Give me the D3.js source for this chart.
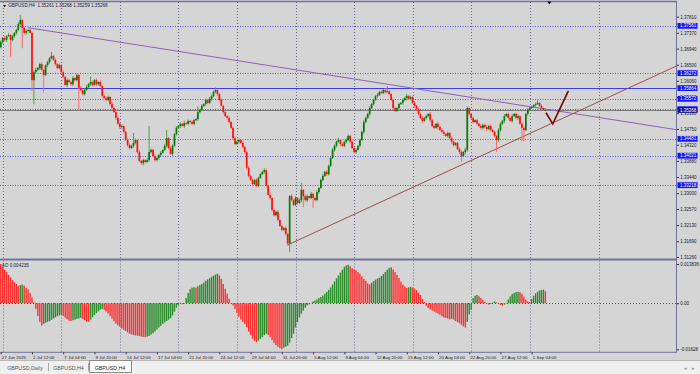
<!DOCTYPE html>
<html><head><meta charset="utf-8">
<script src="https://cdn.jsdelivr.net/npm/d3@7"></script>
<style>
html,body{margin:0;padding:0;background:#d5d5d5;overflow:hidden;}
svg{display:block;}
text{font-family:"Liberation Sans",Arial,sans-serif;}
</style></head><body>
<svg id="c" width="700" height="374"></svg>
<script>
// ---------------- DATA ----------------
const symbolLabel = "GBPUSD,H4";
const headerOHLC = ["1.35261", "1.35268", "1.35259", "1.35268"];
const firstOpen = 1.3698;
const closes = [
1.3712,1.3723,1.3718,1.3728,1.3731,1.3718,1.3728,1.3737,1.3745,1.3761,
1.3772,1.3750,1.3737,1.3742,1.3745,1.3737,1.3608,1.3630,1.3636,1.3641,
1.3652,1.3636,1.3622,1.3649,1.3657,1.3668,1.3674,1.3663,1.3652,1.3641,
1.3649,1.3630,1.3617,1.3595,1.3608,1.3603,1.3597,1.3614,1.3608,1.3622,
1.3587,1.3581,1.3570,1.3581,1.3589,1.3597,1.3603,1.3595,1.3608,1.3597,
1.3603,1.3592,1.3565,1.3559,1.3554,1.3562,1.3543,1.3532,1.3521,1.3505,
1.3489,1.3480,1.3483,1.3467,1.3445,1.3431,1.3423,1.3429,1.3437,1.3445,
1.3412,1.3388,1.3382,1.3390,1.3385,1.3390,1.3412,1.3418,1.3401,1.3390,
1.3396,1.3404,1.3410,1.3418,1.3429,1.3450,1.3423,1.3407,1.3429,1.3461,
1.3478,1.3483,1.3489,1.3483,1.3491,1.3489,1.3497,1.3494,1.3489,1.3499,
1.3502,1.3521,1.3527,1.3538,1.3543,1.3554,1.3546,1.3557,1.3565,1.3576,
1.3581,1.3570,1.3554,1.3538,1.3521,1.3510,1.3505,1.3494,1.3478,1.3450,
1.3434,1.3440,1.3445,1.3437,1.3426,1.3412,1.3369,1.3347,1.3336,1.3325,
1.3336,1.3320,1.3341,1.3352,1.3358,1.3363,1.3320,1.3295,1.3287,1.3254,
1.3240,1.3249,1.3227,1.3210,1.3200,1.3205,1.3189,1.3163,1.3292,1.3281,
1.3268,1.3287,1.3273,1.3281,1.3309,1.3292,1.3281,1.3292,1.3287,1.3298,
1.3287,1.3281,1.3303,1.3314,1.3336,1.3347,1.3358,1.3352,1.3374,1.3396,
1.3418,1.3429,1.3440,1.3445,1.3434,1.3429,1.3440,1.3445,1.3456,1.3440,
1.3423,1.3412,1.3418,1.3429,1.3445,1.3467,1.3494,1.3505,1.3516,1.3532,
1.3543,1.3554,1.3565,1.3568,1.3576,1.3573,1.3581,1.3576,1.3578,1.3570,
1.3554,1.3532,1.3524,1.3532,1.3543,1.3546,1.3554,1.3559,1.3565,1.3557,
1.3562,1.3546,1.3538,1.3529,1.3516,1.3505,1.3497,1.3505,1.3510,1.3516,
1.3499,1.3483,1.3478,1.3489,1.3480,1.3472,1.3467,1.3461,1.3456,1.3464,
1.3450,1.3440,1.3431,1.3437,1.3420,1.3412,1.3401,1.3412,1.3418,1.3532,
1.3516,1.3505,1.3494,1.3499,1.3489,1.3483,1.3478,1.3486,1.3480,1.3475,
1.3483,1.3472,1.3467,1.3456,1.3445,1.3472,1.3489,1.3497,1.3510,1.3516,
1.3505,1.3497,1.3510,1.3516,1.3505,1.3510,1.3489,1.3478,1.3472,1.3516,
1.3527,1.3532,1.3535,1.3540,1.3543,1.3546,1.3538,1.3532,1.35261,1.35268
];
// wick lengths in pips (0.0001) above / below the body
const wickHiPips = [
4,3,5,2,6,3,4,2,3,5, 14,4,3,5,2,4,3,5,6,3, 4,5,3,2,4,3,11,3,5,2, 4,3,5,2,6,3,4,5,2,4,
3,5,2,4,6,3,15,4,3,5, 2,4,3,5,2,4,3,6,2,4, 5,3,4,2,3,5,4,3,27,4, 3,5,2,4,3,6,71,4,3,5,
4,3,5,2,4,22,3,5,4,3, 5,2,4,3,6,3,4,2,5,3, 4,15,3,5,2,4,3,5,4,3, 7,4,3,5,2,4,3,5,3,4,
5,3,4,2,6,3,4,5,3,4, 3,5,4,2,3,5,4,3,6,2, 4,3,5,2,4,3,5,4,3,6, 3,5,2,4,19,3,5,4,2,6,
4,3,5,2,4,6,3,5,4,3, 5,4,3,6,2,4,3,5,4,3, 4,3,5,2,4,3,5,4,3,5, 3,4,2,5,3,4,3,5,14,4,
3,5,4,2,4,3,5,4,6,3, 4,3,5,2,4,3,5,3,4,2, 5,3,4,2,6,3,4,5,3,4, 3,5,4,2,3,5,4,3,6,5,
4,3,5,2,4,3,5,4,3,6, 3,5,2,4,3,5,4,3,6,2, 4,3,5,2,4,6,3,5,4,3, 5,4,3,2,4,7,3,5,2,0
];
const wickLoPips = [
3,5,4,6,2,46,3,4,5,3, 4,55,3,5,4,2,29,66,4,3, 5,4,48,3,5,4,2,3,5,4, 3,5,4,2,6,3,4,5,3,4,
60,3,5,4,2,3,5,4,3,6, 4,3,5,2,4,3,5,4,3,6, 3,5,4,2,3,5,4,3,5,4, 4,3,5,6,4,3,5,4,3,5,
3,5,4,2,3,5,4,3,5,4, 4,3,5,2,6,3,4,5,3,4, 3,5,4,2,3,5,4,3,5,4, 3,5,4,2,6,3,4,5,3,4,
4,3,5,2,4,3,5,4,3,6, 3,5,4,2,3,5,4,3,5,4, 4,3,5,2,4,3,5,7,23,4, 5,3,4,2,6,30,4,5,3,4,
27,4,3,5,2,4,3,5,4,3, 3,5,4,2,6,3,4,5,3,4, 4,3,5,2,4,3,5,4,3,5, 3,4,2,5,3,4,3,5,4,3,
4,5,3,2,4,3,5,4,6,3, 4,3,5,2,4,3,5,3,4,2, 5,3,4,2,6,3,4,5,3,4, 3,5,4,2,3,5,15,3,6,5,
4,3,5,2,4,3,5,4,3,6, 3,5,2,4,33,5,4,3,6,2, 4,3,5,2,4,6,3,37,30,3, 5,4,3,2,4,3,3,5,2,0.2
];
// Awesome Oscillator values, in thousandths
const aoThousandths = [
13.836,12.8,11.8,11.0,10.0,9.1,8.2,7.4,6.8,6.0,
6.4,6.6,6.2,5.4,4.9,3.6,2.0,0.3,-2.0,-4.5,
-6.6,-7.9,-7.3,-6.9,-6.6,-6.3,-5.9,-5.4,-5.0,-4.6,
-4.3,-4.1,-4.5,-5.1,-5.7,-6.2,-6.3,-6.0,-5.8,-5.6,
-5.4,-5.2,-5.5,-6.0,-6.4,-6.6,-5.8,-5.0,-4.2,-3.5,
-2.9,-2.3,-2.0,-2.3,-2.9,-3.6,-4.5,-5.4,-6.4,-7.2,
-7.8,-8.3,-8.9,-9.4,-9.8,-10.3,-10.8,-11.0,-11.2,-11.4,
-11.5,-11.6,-11.8,-11.9,-12.0,-11.8,-11.6,-11.1,-10.6,-10.0,
-9.3,-8.6,-8.0,-7.3,-6.8,-6.3,-5.8,-5.3,-4.3,-3.0,
-1.6,-0.6,-0.3,-0.4,-0.2,1.8,3.6,4.9,5.5,5.6,
5.5,6.0,6.4,6.8,7.3,7.9,8.4,8.8,9.3,9.7,
10.1,10.4,9.8,8.6,6.8,5.1,3.4,1.5,-0.3,-0.8,
-2.0,-3.4,-4.8,-5.8,-6.6,-7.3,-8.5,-10.0,-11.3,-12.5,
-13.3,-13.8,-13.2,-12.6,-12.0,-11.3,-10.8,-11.2,-12.0,-13.0,
-14.0,-14.8,-15.4,-15.9,-16.28,-15.7,-15.4,-15.0,-13.9,-12.3,
-10.8,-8.6,-6.7,-5.0,-3.7,-2.6,-1.6,-0.8,-0.4,0.1,
0.6,0.9,1.3,1.8,2.2,2.7,3.3,4.0,4.7,5.6,
6.6,7.7,8.8,9.8,10.8,11.8,12.8,13.3,13.5,13.0,
12.4,12.0,11.6,11.0,10.4,9.5,8.6,7.9,7.0,6.6,
7.2,7.8,8.3,8.7,9.0,9.6,10.3,11.0,11.8,12.4,
12.7,11.9,11.0,10.0,8.9,7.6,6.6,5.9,5.4,5.6,
5.8,5.5,5.1,4.6,3.7,2.9,1.5,0.4,-0.9,-1.7,
-2.2,-2.6,-2.9,-3.3,-3.7,-4.1,-4.6,-5.0,-5.2,-5.4,
-5.7,-5.5,-5.8,-6.3,-6.7,-7.1,-7.6,-8.2,-8.6,-6.6,
-4.0,-2.3,1.8,2.6,2.9,2.4,1.8,1.2,0.5,-0.2,
-0.5,-0.3,0.2,0.6,0.3,-0.3,-0.6,-0.9,-0.5,0.1,
1.3,2.4,3.2,3.6,3.9,4.0,3.9,3.3,2.3,1.2,
0.6,0.4,1.5,2.6,3.5,4.1,4.5,4.7,4.8,4.235
];
const aoLabel = "AO 0.004235";
const timeLabels = ["27 Jun 2025","2 Jul 12:00","7 Jul 04:00","9 Jul 20:00","14 Jul 12:00","17 Jul 04:00",
  "21 Jul 20:00","24 Jul 12:00","29 Jul 04:00","31 Jul 20:00","5 Aug 12:00","8 Aug 04:00",
  "12 Aug 20:00","15 Aug 12:00","20 Aug 04:00","22 Aug 20:00","27 Aug 12:00","1 Sep 04:00"];
const timeLabelBars = [0,16,32,48,64,80,96,112,128,144,160,176,192,208,224,240,256,272];
const weekStartBars = [1,31,61,91,121,151,181,211,241,271,306.7];
const priceTicks = [1.37810,1.37370,1.36940,1.36500,1.36060,1.35620,1.35180,1.34750,1.34320,1.33880,1.33440,1.33000,1.32570,1.32130,1.31690,1.31260];
const dottedLevels = [1.37561,1.36272,1.35572,1.35290,1.34481,1.34021,1.33218];
const solidLevel = 1.35864;
const bidPrice = 1.35268;
const aoTicks = [0.013836, 0, -0.01628];
const aoTickLabels = ["0.013836","0.00","-0.01628"];
const trendPurple = [[14,1.3751],[198,1.3597]];
const trendBrown = [[147,1.3159],[254,1.3421]];
const checkMark = [[279.3,1.3519],[282.8,1.3489],[290.8,1.3579]];
const tabNames = ["GBPUSD,Daily","GBPUSD,H4","GBPUSD,H4"];
const activeTab = 2;

// ---------------- LAYOUT ----------------
const W = 700, H = 374;
const plotRight = 676, mainTop = 2, mainBottom = 258.5, aoTop = 260.5, aoBottom = 352.3;
const BG = "#d5d5d5", FRAME = "#7272a0";
const GREEN = "#087808", RED = "#ff1010";
const AO_GREEN = "#2b8b2b", AO_RED = "#ff2e2e";

const svg = d3.select("#c");
svg.append("rect").attr("width", W).attr("height", H).attr("fill", BG);

const n = closes.length;
const x = d3.scaleLinear().domain([0, n - 1]).range([0.75, 0.75 + 1.952 * (n - 1)]);
const y = d3.scaleLinear().domain([1.31260, 1.37810]).range([257, 16.7]);
const yAO = d3.scaleLinear().domain([-0.01628, 0.013836]).range([349.3, 264]);

const defs = svg.append("defs");
defs.append("clipPath").attr("id", "mainClip").append("rect")
  .attr("x", 0).attr("y", mainTop).attr("width", plotRight).attr("height", mainBottom - mainTop);
defs.append("clipPath").attr("id", "aoClip").append("rect")
  .attr("x", 0).attr("y", aoTop).attr("width", plotRight).attr("height", aoBottom - aoTop);

// vertical dotted grid (both panels)
const grid = svg.append("g");
weekStartBars.forEach(b => {
  [[mainTop, mainBottom], [aoTop, aoBottom]].forEach(([a, z]) => {
    grid.append("line").attr("x1", Math.round(x(b)) + 0.5).attr("x2", Math.round(x(b)) + 0.5)
      .attr("y1", a).attr("y2", z).attr("stroke", "#6a6a9c").attr("stroke-width", 1)
      .attr("stroke-dasharray", "1,2");
  });
});

const main = svg.append("g").attr("clip-path", "url(#mainClip)");

// horizontal level lines
dottedLevels.forEach(l => {
  main.append("line").attr("x1", 0).attr("x2", plotRight)
    .attr("y1", Math.round(y(l)) + 0.5).attr("y2", Math.round(y(l)) + 0.5)
    .attr("stroke", "#5a5ae6").attr("stroke-width", 1).attr("stroke-dasharray", "1,1.5");
});
main.append("line").attr("x1", 0).attr("x2", plotRight)
  .attr("y1", Math.round(y(solidLevel)) + 0.5).attr("y2", Math.round(y(solidLevel)) + 0.5)
  .attr("stroke", "#3c3cf0").attr("stroke-width", 1);
main.append("line").attr("x1", 0).attr("x2", plotRight)
  .attr("y1", Math.round(y(bidPrice)) + 0.5).attr("y2", Math.round(y(bidPrice)) + 0.5)
  .attr("stroke", "#7a7a7a").attr("stroke-width", 1);

// trend lines extended to the right edge
function ray(pts, color) {
  const [p0, p1] = pts;
  const x0 = x(p0[0]), y0 = y(p0[1]), x1 = x(p1[0]), y1 = y(p1[1]);
  const slope = (y1 - y0) / (x1 - x0);
  main.append("line").attr("x1", x0).attr("y1", y0)
    .attr("x2", plotRight).attr("y2", y0 + slope * (plotRight - x0))
    .attr("stroke", color).attr("stroke-width", 1);
}
ray(trendPurple, "#8a62b8");
ray(trendBrown, "#a04c4c");

// candles
const candles = closes.map((c, i) => {
  const o = i === 0 ? firstOpen : closes[i - 1];
  const hi = Math.max(o, c) + wickHiPips[i] * 0.0001;
  const lo = Math.min(o, c) - wickLoPips[i] * 0.0001;
  return { i, o, c, hi, lo, up: c >= o };
});
const cg = main.append("g");
cg.selectAll("line.w").data(candles).join("line").attr("class", "w")
  .attr("x1", d => x(d.i)).attr("x2", d => x(d.i))
  .attr("y1", d => y(d.hi)).attr("y2", d => y(d.lo))
  .attr("stroke", d => d.up ? "#4f9f4f" : "#ff6a6a").attr("stroke-width", 1);
cg.selectAll("rect.b").data(candles).join("rect").attr("class", "b")
  .attr("x", d => x(d.i) - 0.85).attr("width", 1.7)
  .attr("y", d => y(Math.max(d.o, d.c)))
  .attr("height", d => Math.max(0.9, Math.abs(y(d.o) - y(d.c))))
  .attr("fill", d => d.up ? GREEN : RED);

// hand-drawn check mark
main.append("path")
  .attr("d", d3.line().x(d => x(d[0])).y(d => y(d[1]))(checkMark))
  .attr("fill", "none").attr("stroke", "#7a0a0a").attr("stroke-width", 1.7)
  .attr("stroke-linejoin", "miter");

// AO panel
const ao = svg.append("g").attr("clip-path", "url(#aoClip)");
ao.append("line").attr("x1", 0).attr("x2", plotRight)
  .attr("y1", Math.round(yAO(0)) + 0.5).attr("y2", Math.round(yAO(0)) + 0.5)
  .attr("stroke", "#4a4a8a").attr("stroke-dasharray", "1,2");
const aoData = aoThousandths.map((v, i) => ({ i, v: v / 1000, up: i > 0 && v > aoThousandths[i - 1] }));
ao.selectAll("rect").data(aoData).join("rect")
  .attr("x", d => x(d.i) - 0.7).attr("width", 1.4)
  .attr("y", d => Math.min(yAO(0), yAO(d.v)))
  .attr("height", d => Math.abs(yAO(d.v) - yAO(0)))
  .attr("fill", d => d.up ? AO_GREEN : AO_RED);

// frames
svg.append("line").attr("x1", 0).attr("x2", plotRight + 1).attr("y1", 1.5).attr("y2", 1.5)
  .attr("stroke", FRAME).attr("stroke-width", 1.5);
svg.append("line").attr("x1", 0).attr("x2", plotRight + 1).attr("y1", 259.5).attr("y2", 259.5)
  .attr("stroke", FRAME).attr("stroke-width", 2);
svg.append("line").attr("x1", 0).attr("x2", plotRight + 1).attr("y1", aoBottom).attr("y2", aoBottom)
  .attr("stroke", FRAME).attr("stroke-width", 1);
svg.append("line").attr("x1", plotRight + 0.5).attr("x2", plotRight + 0.5).attr("y1", 1).attr("y2", aoBottom)
  .attr("stroke", FRAME).attr("stroke-width", 1);

// price axis
const fs = 4.5;
const pAxis = svg.append("g").attr("transform", `translate(${plotRight + 1},0)`)
  .call(d3.axisRight(y).tickValues(priceTicks).tickFormat(d3.format(".5f")).tickSize(2).tickPadding(1.2));
pAxis.select(".domain").remove();
pAxis.selectAll("line").attr("stroke", "#333");
pAxis.selectAll("text").attr("font-size", fs).attr("fill", "#1a1a1a");

// highlighted price boxes
function priceBox(p, fill) {
  const g = svg.append("g").attr("transform", `translate(${plotRight + 1.5},${y(p)})`);
  g.append("rect").attr("x", 0).attr("y", -2.9).attr("width", 20).attr("height", 5.8).attr("fill", fill);
  g.append("text").attr("x", 2.5).attr("y", 1.6).attr("font-size", fs).attr("fill", "#fff").text(d3.format(".5f")(p));
}
dottedLevels.forEach(l => priceBox(l, "#1414ff"));
priceBox(solidLevel, "#1414ff");
priceBox(bidPrice, "#14148c");

// AO axis
const aAxis = svg.append("g").attr("transform", `translate(${plotRight + 1},0)`)
  .call(d3.axisRight(yAO).tickValues(aoTicks).tickFormat((d, i) => aoTickLabels[i]).tickSize(2).tickPadding(1.2));
aAxis.select(".domain").remove();
aAxis.selectAll("line").attr("stroke", "#333");
aAxis.selectAll("text").attr("font-size", fs).attr("fill", "#1a1a1a");

// time axis
const tAxis = svg.append("g").attr("transform", `translate(0,${aoBottom})`)
  .call(d3.axisBottom(x).tickValues(timeLabelBars).tickFormat((d, i) => timeLabels[i]).tickSize(2).tickPadding(1.5));
tAxis.select(".domain").remove();
tAxis.selectAll("line").attr("stroke", "#333");
tAxis.selectAll("text").attr("font-size", 4.4).attr("fill", "#1a1a1a")
  .attr("text-anchor", "start").attr("dx", 0.6);

// header
svg.append("path").attr("d", "M3,5 L6.2,5 L4.6,7.2 Z").attr("fill", "#1a1a40");
svg.append("text").attr("x", 8.3).attr("y", 7.2).attr("font-size", 4.6).attr("fill", "#1a1a40")
  .attr("xml:space", "preserve")
  .text(symbolLabel + "  " + headerOHLC.join(" "));
svg.append("text").attr("x", 1.8).attr("y", 266.6).attr("font-size", 4.6).attr("fill", "#1a1a40")
  .text(aoLabel);

// chart-shift marker
svg.append("path").attr("d", `M${x(n - 1) + 2},1.5 L${x(n - 1) + 6},1.5 L${x(n - 1) + 4},4.5 Z`).attr("fill", "#000");

// tabs bar
svg.append("rect").attr("x", 0).attr("y", 360.5).attr("width", W).attr("height", 13.5).attr("fill", "#f0f0f0");
svg.append("line").attr("x1", 0).attr("x2", W).attr("y1", 360.5).attr("y2", 360.5).attr("stroke", "#b8b8b8");
const tabX = [2, 49, 89];
const tabW = [46, 39, 42];
tabNames.forEach((t, i) => {
  if (i === activeTab) {
    svg.append("rect").attr("x", tabX[i] + 0.5).attr("y", 360.5).attr("width", tabW[i]).attr("height", 12)
      .attr("fill", "#fff").attr("stroke", "#8a8a8a").attr("stroke-width", 1);
  } else {
    svg.append("line").attr("x1", tabX[i] + tabW[i] + 0.5).attr("x2", tabX[i] + tabW[i] + 0.5)
      .attr("y1", 363).attr("y2", 371).attr("stroke", "#a8a8a8");
  }
  svg.append("text").attr("x", tabX[i] + tabW[i] / 2).attr("y", 369.6).attr("text-anchor", "middle")
    .attr("font-size", 5.3).attr("fill", i === activeTab ? "#222" : "#555").text(t);
});
svg.append("text").attr("x", 684).attr("y", 369.5).attr("font-size", 5).attr("fill", "#888").text("◂");
svg.append("text").attr("x", 692).attr("y", 369.5).attr("font-size", 5).attr("fill", "#888").text("▸");
</script>
</body></html>
